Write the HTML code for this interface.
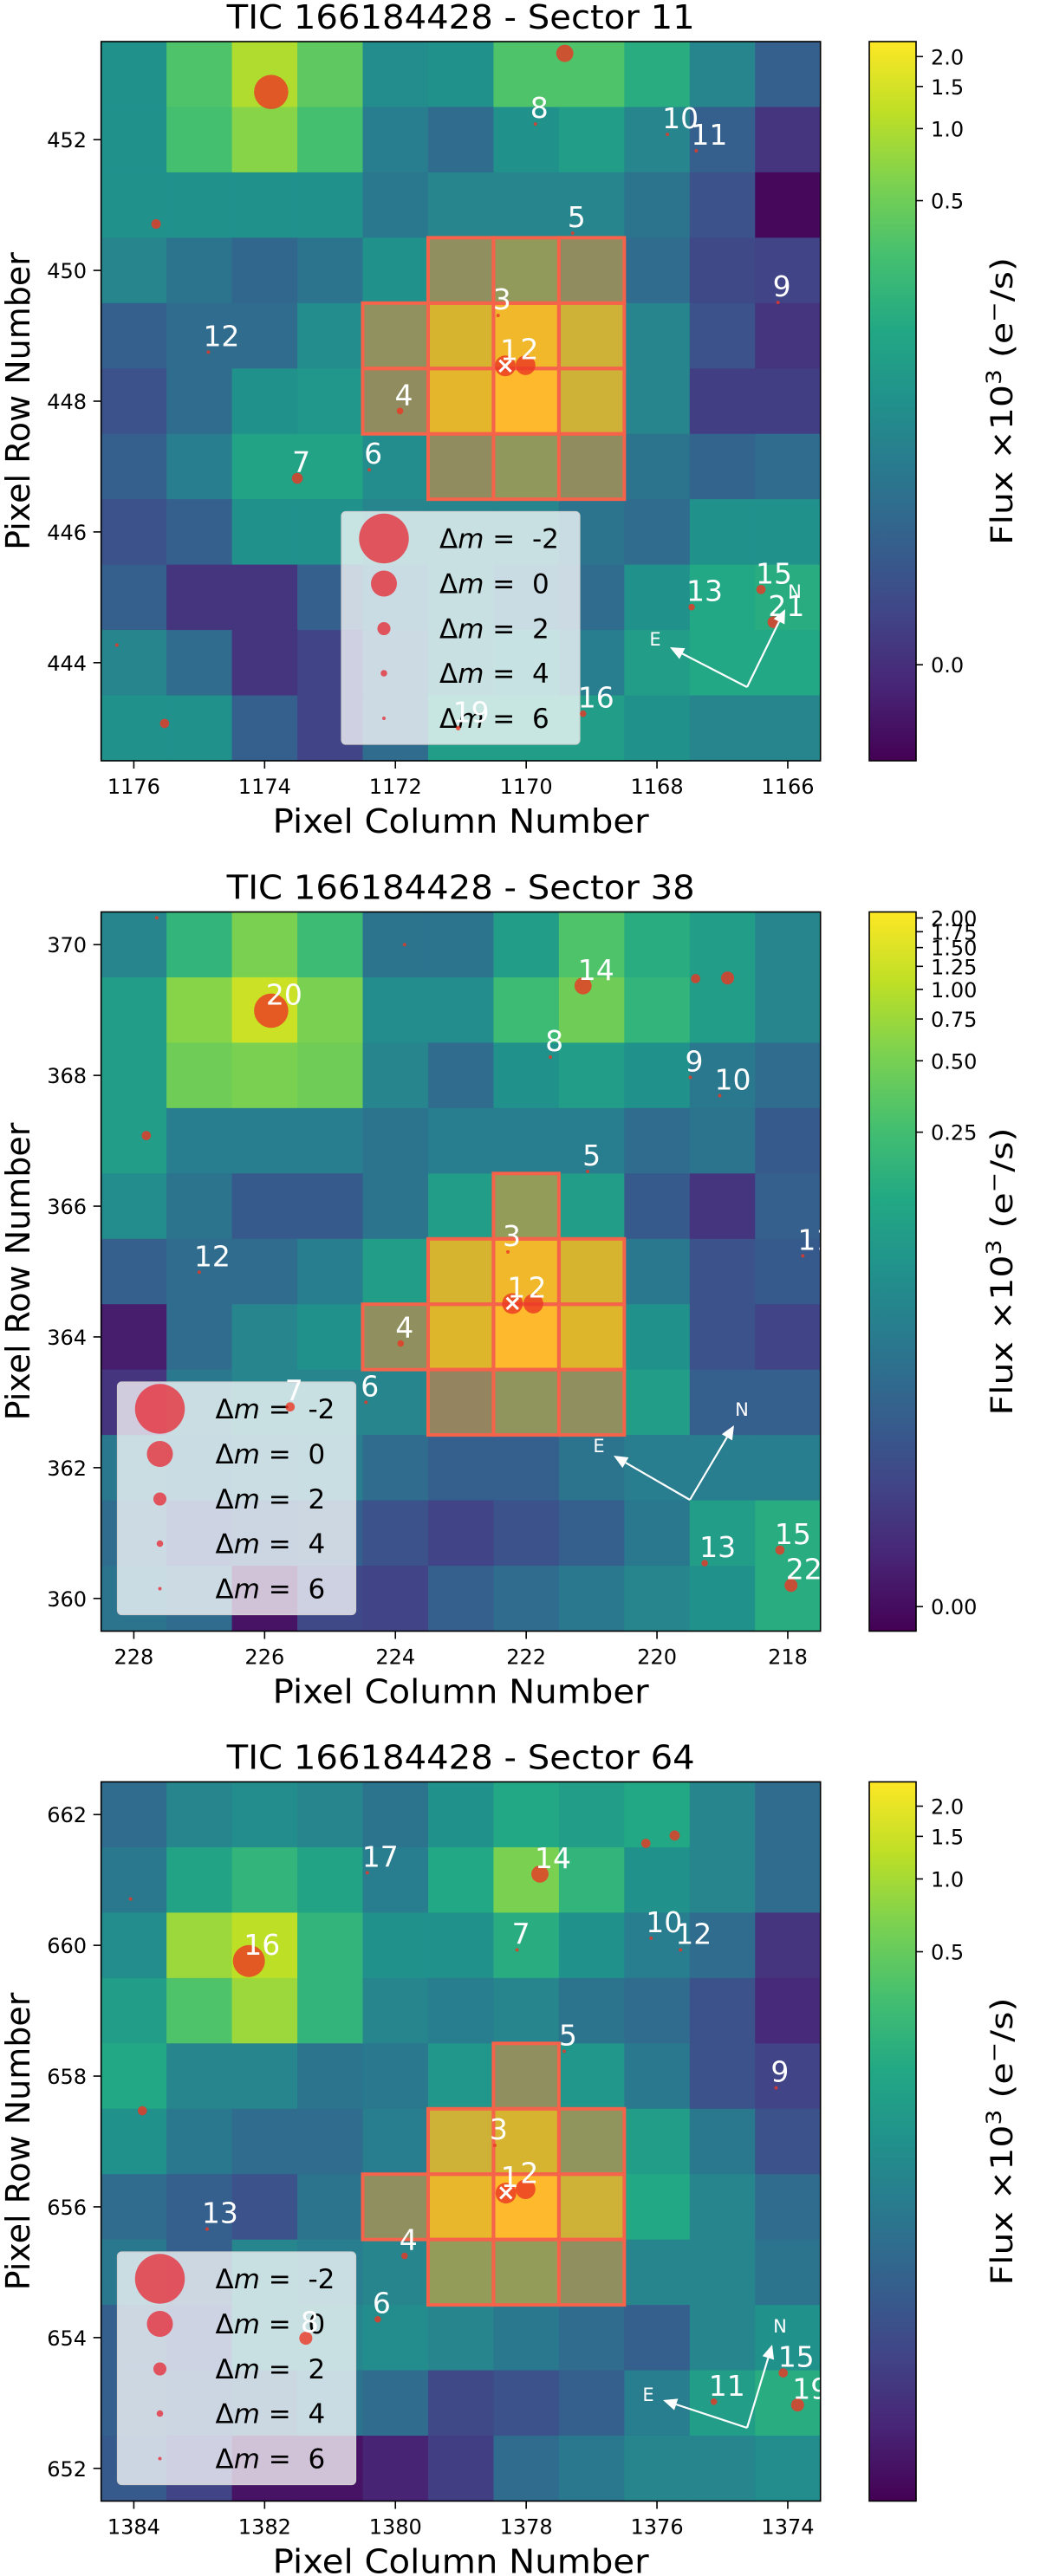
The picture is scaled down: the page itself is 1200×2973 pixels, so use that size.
<!DOCTYPE html>
<html><head><meta charset="utf-8"><style>
html,body{margin:0;padding:0;background:#fff;width:1200px;height:2973px;overflow:hidden}
svg{display:block}
text{font-family:"DejaVu Sans","Liberation Sans",sans-serif}
</style></head><body>
<svg id="fig" width="1200" height="2973" viewBox="0 0 1200 2973" xmlns="http://www.w3.org/2000/svg"></svg>
<script>
// ---------- DATA ----------
const p1Title = "TIC 166184428 - Sector 11";
const p1Cols = [1176,1175,1174,1173,1172,1171,1170,1169,1168,1167,1166];
const p1Rows = [453,452,451,450,449,448,447,446,445,444,443];
const p1Flux = [
 [.50,.72,.88,.75,.48,.50,.72,.72,.62,.45,.30],
 [.50,.70,.82,.70,.42,.35,.50,.55,.45,.30,.15],
 [.50,.50,.50,.50,.40,.45,.45,.45,.38,.25,.02],
 [.45,.38,.33,.38,.50,.50,.60,.48,.35,.22,.20],
 [.30,.35,.35,.48,.52,.88,.96,.85,.45,.25,.15],
 [.25,.35,.50,.52,.48,.92,1.0,.85,.45,.18,.18],
 [.30,.42,.58,.58,.48,.48,.58,.48,.38,.32,.35],
 [.25,.30,.50,.50,.45,.45,.45,.38,.35,.50,.50],
 [.30,.15,.15,.30,.38,.45,.38,.35,.50,.60,.62],
 [.45,.35,.15,.20,.35,.45,.48,.42,.55,.60,.60],
 [.50,.50,.30,.20,.35,.55,.55,.55,.50,.45,.45]];
const p1ApCol = [1171,1170,1169,1172,1171,1170,1169,1172,1171,1170,1169,1171,1170,1169];
const p1ApRow = [450,450,450,449,449,449,449,448,448,448,448,447,447,447];
const p1StarCol = [1173.9,1169.41,1169.86,1167.84,1167.4,1175.66,1169.29,1166.15,1170.43,1174.86,1170.32,1170.01,1171.93,1173.5,1172.4,1167.47,1166.41,1166.22,1176.26,1175.53,1169.13,1171.04];
const p1StarRow = [452.73,453.32,452.24,452.08,451.83,450.71,450.57,449.51,449.31,448.75,448.54,448.55,447.85,446.82,446.95,444.85,445.12,444.62,444.27,443.07,443.22,443.0];
const p1StarDm  = [-0.8,1.2,6,6,6,2.9,6,6,6,6,0.65,0.8,4,2.5,6,4,3,2.3,6,3,4,5];
const p1StarLab = ["","","8","10","11","","5","9","3","12","1","2","4","7","6","13","15","21","","","16","19"];
const p1CbTicks = [0.0,0.5,1.0,1.5,2.0];
const p1CbLabels = ["0.0","0.5","1.0","1.5","2.0"];

const p2Title = "TIC 166184428 - Sector 38";
const p2Cols = [228,227,226,225,224,223,222,221,220,219,218];
const p2Rows = [370,369,368,367,366,365,364,363,362,361,360];
const p2Flux = [
 [.45,.65,.80,.68,.38,.38,.55,.72,.62,.55,.45],
 [.55,.82,.92,.80,.48,.48,.68,.78,.65,.55,.45],
 [.55,.78,.80,.78,.45,.35,.50,.55,.50,.40,.35],
 [.55,.42,.42,.42,.38,.42,.42,.42,.35,.38,.28],
 [.48,.38,.28,.28,.38,.55,.62,.55,.28,.15,.30],
 [.30,.35,.35,.42,.55,.88,.96,.88,.40,.25,.28],
 [.08,.35,.45,.50,.50,.90,1.0,.90,.50,.25,.20],
 [.15,.40,.45,.45,.45,.42,.55,.50,.55,.30,.30],
 [.40,.38,.40,.42,.35,.30,.30,.38,.42,.42,.42],
 [.35,.25,.28,.30,.25,.20,.25,.30,.40,.55,.62],
 [.38,.35,.05,.22,.20,.30,.35,.40,.45,.50,.62]];
const p2ApCol = [222,223,222,221,224,223,222,221,223,222,221];
const p2ApRow = [366,365,365,365,364,364,364,364,363,363,363];
const p2StarCol = [227.65,223.86,225.9,221.13,219.41,218.92,221.63,219.49,219.04,227.81,221.06,217.77,222.28,227.0,222.21,221.89,223.92,225.61,224.45,219.27,218.12,217.95];
const p2StarRow = [370.41,370.0,368.99,369.37,369.48,369.49,368.28,367.97,367.69,367.08,366.53,365.24,365.3,364.99,364.51,364.51,363.9,362.93,363.0,360.54,360.74,360.2];
const p2StarDm  = [6,6,-0.8,1.2,3,2,6,6,6,3,6,6,6,6,0.65,0.8,4,3,6,4,3,2];
const p2StarLab = ["","","20","14","","","8","9","10","","5","11","3","12","1","2","4","7","6","13","15","22"];
const p2CbTicks = [0.0,0.25,0.5,0.75,1.0,1.25,1.5,1.75,2.0];
const p2CbLabels = ["0.00","0.25","0.50","0.75","1.00","1.25","1.50","1.75","2.00"];

const p3Title = "TIC 166184428 - Sector 64";
const p3Cols = [1384,1383,1382,1381,1380,1379,1378,1377,1376,1375,1374];
const p3Rows = [662,661,660,659,658,657,656,655,654,653,652];
const p3Flux = [
 [.35,.45,.48,.45,.38,.50,.60,.55,.60,.45,.35],
 [.40,.58,.65,.58,.42,.60,.80,.65,.50,.45,.35],
 [.48,.85,.90,.65,.50,.50,.62,.50,.42,.35,.15],
 [.55,.72,.85,.65,.45,.42,.45,.38,.35,.25,.12],
 [.60,.45,.45,.38,.40,.52,.50,.52,.40,.25,.20],
 [.50,.40,.35,.35,.42,.85,.88,.55,.55,.40,.25],
 [.35,.30,.25,.38,.50,.93,1.0,.85,.60,.45,.35],
 [.40,.30,.45,.42,.45,.62,.62,.50,.45,.45,.38],
 [.30,.25,.45,.45,.48,.45,.40,.35,.30,.45,.50],
 [.30,.28,.32,.38,.35,.22,.25,.30,.42,.55,.62],
 [.28,.20,.05,.05,.10,.18,.35,.40,.45,.45,.48]];
const p3ApCol = [1378,1379,1378,1377,1380,1379,1378,1377,1379,1378,1377];
const p3ApRow = [658,657,657,657,656,656,656,656,655,655,655];
const p3StarCol = [1384.05,1380.43,1377.79,1376.17,1375.73,1382.24,1378.14,1376.09,1375.64,1377.42,1374.18,1383.87,1378.48,1378.31,1378.01,1382.88,1379.86,1380.27,1381.37,1374.07,1375.13,1373.85];
const p3StarRow = [660.71,661.11,661.09,661.56,661.68,659.76,659.93,660.11,659.93,658.38,657.82,657.47,656.94,656.21,656.27,655.66,655.25,654.28,653.99,653.46,653.02,652.97];
const p3StarDm  = [6,6,1.2,3,2.7,-0.6,6,6,6,6,6,3,6,0.65,0.8,6,4,4,2,3,4,2];
const p3StarLab = ["","17","14","","","16","7","10","12","5","9","","3","1","2","13","4","6","8","15","11","19"];
const p3CbTicks = [0.5,1.0,1.5,2.0];
const p3CbLabels = ["0.5","1.0","1.5","2.0"];

const legendDm = [-2,0,2,4,6];
const legendLabels = ["-2","0","2","4","6"];

// ---------- RENDER ----------
const NS = "http://www.w3.org/2000/svg";
const svg = document.getElementById('fig');
function mk(tag, attrs, parent){
  const e = document.createElementNS(NS, tag);
  for (const k in attrs) e.setAttribute(k, attrs[k]);
  (parent||svg).appendChild(e);
  return e;
}
const VIR = [[68,1,84],[72,36,117],[65,68,135],[53,95,141],[42,120,142],[33,145,140],[34,168,132],[68,191,112],[122,209,81],[189,223,38],[253,231,37]];
function virRGB(t){
  t = Math.max(0, Math.min(1, t));
  const f = t*10, i = Math.min(9, Math.floor(f)), u = f - i;
  const a = VIR[i], b = VIR[i+1];
  return [0,1,2].map(k => a[k] + (b[k]-a[k])*u);
}
function rgbStr(c){ return 'rgb(' + c.map(v=>Math.round(v)).join(',') + ')'; }
function starR(dm){ return Math.max(2, 15*Math.pow(10, -0.15*dm)); }

const L = 116.7, S = 830, CB_X = 1003, CB_W = 54;
const panels = [
 {top:48, title:p1Title, cols:p1Cols, rows:p1Rows, flux:p1Flux, apC:p1ApCol, apR:p1ApRow,
  sc:p1StarCol, sr:p1StarRow, sd:p1StarDm, sl:p1StarLab, ticks:p1CbTicks, tlab:p1CbLabels,
  norm:{a:0.0115, lo:-0.0122, hi:2.31}, legX:394,
  comp:{o:[862,793], e:[773,747], n:[906,703], el:[756,745], nl:[917,690]}},
 {top:1052.5, title:p2Title, cols:p2Cols, rows:p2Rows, flux:p2Flux, apC:p2ApCol, apR:p2ApRow,
  sc:p2StarCol, sr:p2StarRow, sd:p2StarDm, sl:p2StarLab, ticks:p2CbTicks, tlab:p2CbLabels,
  norm:{a:0.005, lo:-0.0012, hi:2.12}, legX:135.5,
  comp:{o:[796,1731], e:[708,1680], n:[847,1645], el:[691,1676], nl:[856,1634]}},
 {top:2056.5, title:p3Title, cols:p3Cols, rows:p3Rows, flux:p3Flux, apC:p3ApCol, apR:p3ApRow,
  sc:p3StarCol, sr:p3StarRow, sd:p3StarDm, sl:p3StarLab, ticks:p3CbTicks, tlab:p3CbLabels,
  norm:{a:0.002, lo:0.0023, hi:2.52}, legX:135.5,
  comp:{o:[862,2802], e:[765,2770], n:[891,2706], el:[748,2771], nl:[900,2692]}}
];

const defs = mk('defs', {});
const grad = mk('linearGradient', {id:'vir', x1:'0', y1:'1', x2:'0', y2:'0'}, defs);
for (let i=0;i<=10;i++) mk('stop', {offset:(i/10), 'stop-color':rgbStr(VIR[i])}, grad);

panels.forEach((p, pi) => {
  const T = p.top, n = p.cols.length, cw = S/n;
  const colMax = p.cols[0], rowMax = p.rows[0];
  const xOf = c => L + (colMax + 0.5 - c)*cw;
  const yOf = r => T + (rowMax + 0.5 - r)*cw;
  const g = mk('g', {});
  
  
  const cp = mk('clipPath', {id:'clip'+pi}, defs);
  mk('rect', {x:L, y:T, width:S, height:S}, cp);

  const tt = mk('text', {x:L+S/2, y:T-15, 'font-size':38, 'text-anchor':'middle', textLength:540, lengthAdjust:'spacingAndGlyphs'}, g);
  tt.textContent = p.title;
  
  

  const hm = mk('g', {}, g);
  
  
  const isAp = (c, r) => p.apC.some((ac, k) => ac === c && p.apR[k] === r);
  p.rows.forEach((r, ri) => {
    p.cols.forEach((c, ci) => {
      let col = virRGB(p.flux[ri][ci]);
      if (isAp(c, r)) col = col.map((v,k)=> 0.5*v + 0.5*[255,140,50][k]);
      const cell = mk('rect', {x:xOf(c)-cw/2, y:yOf(r)-cw/2, width:cw+0.6, height:cw+0.6, fill:rgbStr(col)}, hm);
      
      
    });
  });
  p.apC.forEach((c, k) => {
    const r = p.apR[k];
    const ap = mk('rect', {x:xOf(c)-cw/2, y:yOf(r)-cw/2, width:cw, height:cw, fill:'none', stroke:'#f4634a', 'stroke-width':4}, g);
    
    
  });

  // legend (drawn beneath stars, as in reference)
  const lgT = T + 542.5;
  const lg = mk('g', {}, g);
  
  
  mk('rect', {x:p.legX, y:lgT, width:275, height:268.5, rx:5, fill:'#fff', 'fill-opacity':0.75, stroke:'#d0d0d0', 'stroke-width':1.2}, lg);
  const rowOff = [31, 83, 135, 186.5, 238.5];
  legendDm.forEach((dm, i) => {
    const cy = lgT + rowOff[i];
    const m = mk('circle', {cx:p.legX+49, cy:cy, r:starR(dm)*(dm===-2?0.96:1), fill:'rgb(230,45,55)', 'fill-opacity':0.78}, lg);
    
    
    const t = mk('text', {x:p.legX+113, y:cy+11, 'font-size':31, fill:'#000', style:'white-space:pre'}, lg);
    t.innerHTML = 'Δ<tspan font-style="italic">m</tspan> =  ' + legendLabels[i];
    
    
  });

  const sg = mk('g', {'clip-path':'url(#clip'+pi+')'}, g);
  
  
  p.sc.forEach((c, k) => {
    const x = xOf(c), y = yOf(p.sr[k]);
    const st = mk('circle', {cx:x, cy:y, r:starR(p.sd[k]), fill:'rgb(235,55,35)', 'fill-opacity':0.8}, sg);
    
    
  });
  p.sc.forEach((c, k) => {
    const x = xOf(c), y = yOf(p.sr[k]);
    if (p.sl[k] === '1') {
      const xm = mk('text', {x:x, y:y+8, 'font-size':26, 'text-anchor':'middle', fill:'#fff', 'font-weight':'bold'}, sg);
      xm.textContent = '×';
      
      
    }
    if (p.sl[k]) {
      const lb = mk('text', {x:x-6, y:y-7, 'font-size':33, fill:'#fff'}, sg);
      lb.textContent = p.sl[k];
      
      
    }
  });

  const cg = mk('g', {}, g);
  
  
  const co = p.comp;
  [co.e, co.n].forEach(tip => {
    const dx = tip[0]-co.o[0], dy = tip[1]-co.o[1], len = Math.hypot(dx,dy);
    const ux = dx/len, uy = dy/len, hl = 16, hw = 7;
    const bx = tip[0]-ux*hl, by = tip[1]-uy*hl;
    mk('line', {x1:co.o[0], y1:co.o[1], x2:bx, y2:by, stroke:'#fff', 'stroke-width':2.2}, cg);
    mk('polygon', {points:`${tip[0]},${tip[1]} ${bx-uy*hw},${by+ux*hw} ${bx+uy*hw},${by-ux*hw}`, fill:'#fff'}, cg);
  });
  const eL = mk('text', {x:co.el[0], y:co.el[1], 'font-size':21, fill:'#fff', 'text-anchor':'middle'}, cg); eL.textContent='E';
  const nL = mk('text', {x:co.nl[0], y:co.nl[1], 'font-size':21, fill:'#fff', 'text-anchor':'middle'}, cg); nL.textContent='N';

  mk('rect', {x:L, y:T, width:S, height:S, fill:'none', stroke:'#000', 'stroke-width':1.6}, g);

  p.cols.forEach(c => {
    if (c % 2 !== 0) return;
    const x = xOf(c);
    mk('line', {x1:x, y1:T+S, x2:x, y2:T+S+9, stroke:'#000', 'stroke-width':1.6}, g);
    const tl = mk('text', {x:x, y:T+S+38, 'font-size':24, 'text-anchor':'middle'}, g);
    tl.textContent = c;
    
    
  });
  p.rows.forEach(r => {
    if (r % 2 !== 0) return;
    const y = yOf(r);
    mk('line', {x1:L-9, y1:y, x2:L, y2:y, stroke:'#000', 'stroke-width':1.6}, g);
    const tl = mk('text', {x:100, y:y+9, 'font-size':24, 'text-anchor':'end'}, g);
    tl.textContent = r;
    
    
  });
  const xl = mk('text', {x:L+S/2, y:T+S+83, 'font-size':38, 'text-anchor':'middle', textLength:434, lengthAdjust:'spacingAndGlyphs'}, g);
  xl.textContent = 'Pixel Column Number';
  
  
  const yl = mk('text', {x:0, y:0, 'font-size':38, 'text-anchor':'middle', transform:`translate(34,${T+S/2}) rotate(-90)`}, g);
  yl.textContent = 'Pixel Row Number';
  
  

  const cb = mk('g', {}, g);
  
  
  mk('rect', {x:CB_X, y:T, width:CB_W, height:S, fill:'url(#vir)', stroke:'#000', 'stroke-width':1.6}, cb);
  const nm = p.norm, as = Math.asinh;
  const frac = v => (as(v/nm.a) - as(nm.lo/nm.a)) / (as(nm.hi/nm.a) - as(nm.lo/nm.a));
  p.ticks.forEach((v, i) => {
    const y = T + S*(1 - frac(v));
    mk('line', {x1:CB_X+CB_W, y1:y, x2:CB_X+CB_W+8, y2:y, stroke:'#000', 'stroke-width':1.6}, cb);
    const tl = mk('text', {x:CB_X+CB_W+17, y:y+9, 'font-size':24}, cb);
    tl.textContent = p.tlab[i];
    
    
  });
  const cl = mk('text', {x:0, y:0, 'font-size':35, 'text-anchor':'middle', textLength:332, lengthAdjust:'spacingAndGlyphs', transform:`translate(1168,${T+S/2}) rotate(-90)`}, cb);
  cl.innerHTML = 'Flux ×10<tspan font-size="24" dy="-13">3</tspan><tspan dy="13"> (e</tspan><tspan font-size="24" dy="-13">−</tspan><tspan dy="13">/s)</tspan>';
  
  
});
</script>
</body></html>
